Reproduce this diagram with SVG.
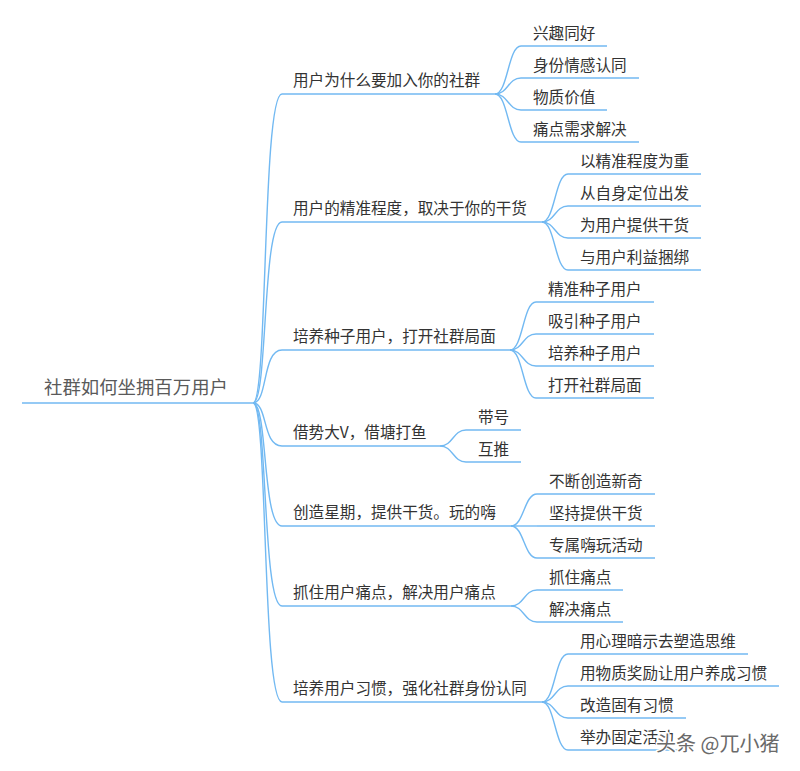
<svg xmlns="http://www.w3.org/2000/svg" width="800" height="771" viewBox="0 0 800 771">
<style>
.ln{fill:none;stroke:#72b9f2;stroke-width:1.4}
.t{font-family:"Noto Sans CJK SC","Noto Sans",sans-serif;font-size:15.6px;fill:#333}
.root{font-family:"Noto Sans CJK SC","Noto Sans",sans-serif;font-size:18.4px;fill:#5a5a5a}
.wm{font-family:"Noto Sans CJK SC","Noto Sans",sans-serif;font-size:20px;fill:#6a6a6a;stroke:#fff;stroke-width:3;paint-order:stroke;stroke-linejoin:round}
</style>
<rect width="800" height="771" fill="#fff"/>
<g id="connectors">
<!-- root to branches -->
<path class="ln" d="M253,403 C268,403 262,94 282,94"/>
<path class="ln" d="M253,403 C268,403 262,222 282,222"/>
<path class="ln" d="M253,403 C268,403 262,350 282,350"/>
<path class="ln" d="M253,403 C268,403 262,446 282,446"/>
<path class="ln" d="M253,403 C268,403 262,526 282,526"/>
<path class="ln" d="M253,403 C268,403 262,606 282,606"/>
<path class="ln" d="M253,403 C268,403 262,702 282,702"/>
<!-- B1 leaves -->
<path class="ln" d="M495,94 C508,94 508,46 521,46"/>
<path class="ln" d="M495,94 C508,94 508,78 521,78"/>
<path class="ln" d="M495,94 C508,94 508,110 521,110"/>
<path class="ln" d="M495,94 C508,94 508,142 521,142"/>
<!-- B2 leaves -->
<path class="ln" d="M542,222 C555,222 555,174 568,174"/>
<path class="ln" d="M542,222 C555,222 555,206 568,206"/>
<path class="ln" d="M542,222 C555,222 555,238 568,238"/>
<path class="ln" d="M542,222 C555,222 555,270 568,270"/>
<!-- B3 leaves -->
<path class="ln" d="M510,350 C523,350 523,302 536,302"/>
<path class="ln" d="M510,350 C523,350 523,334 536,334"/>
<path class="ln" d="M510,350 C523,350 523,366 536,366"/>
<path class="ln" d="M510,350 C523,350 523,398 536,398"/>
<!-- B4 leaves -->
<path class="ln" d="M440,446 C453,446 453,430 466,430"/>
<path class="ln" d="M440,446 C453,446 453,462 466,462"/>
<!-- B5 leaves -->
<path class="ln" d="M511,526 C524,526 524,494 537,494"/>
<path class="ln" d="M511,526 C524,526 524,526 537,526"/>
<path class="ln" d="M511,526 C524,526 524,558 537,558"/>
<!-- B6 leaves -->
<path class="ln" d="M511,606 C524,606 524,590 537,590"/>
<path class="ln" d="M511,606 C524,606 524,622 537,622"/>
<!-- B7 leaves -->
<path class="ln" d="M542,702 C555,702 555,654 568,654"/>
<path class="ln" d="M542,702 C555,702 555,686 568,686"/>
<path class="ln" d="M542,702 C555,702 555,718 568,718"/>
<path class="ln" d="M542,702 C555,702 555,750 568,750"/>
</g>
<g id="root">
<line class="ln" x1="22" y1="403" x2="253" y2="403"/>
<text class="root" x="44" y="394">社群如何坐拥百万用户</text>
</g>
<g id="b1">
<line class="ln" x1="282" y1="94" x2="495" y2="94"/>
<text class="t" x="293" y="86">用户为什么要加入你的社群</text>
</g>
<g id="b1-1"><line class="ln" x1="521" y1="46" x2="607" y2="46"/><text class="t" x="533" y="39">兴趣同好</text></g>
<g id="b1-2"><line class="ln" x1="521" y1="78" x2="639" y2="78"/><text class="t" x="533" y="71">身份情感认同</text></g>
<g id="b1-3"><line class="ln" x1="521" y1="110" x2="607" y2="110"/><text class="t" x="533" y="103">物质价值</text></g>
<g id="b1-4"><line class="ln" x1="521" y1="142" x2="639" y2="142"/><text class="t" x="533" y="135">痛点需求解决</text></g>
<g id="b2">
<line class="ln" x1="282" y1="222" x2="542" y2="222"/>
<text class="t" x="293" y="214">用户的精准程度，取决于你的干货</text>
</g>
<g id="b2-1"><line class="ln" x1="568" y1="174" x2="701" y2="174"/><text class="t" x="580" y="167">以精准程度为重</text></g>
<g id="b2-2"><line class="ln" x1="568" y1="206" x2="701" y2="206"/><text class="t" x="580" y="199">从自身定位出发</text></g>
<g id="b2-3"><line class="ln" x1="568" y1="238" x2="701" y2="238"/><text class="t" x="580" y="231">为用户提供干货</text></g>
<g id="b2-4"><line class="ln" x1="568" y1="270" x2="701" y2="270"/><text class="t" x="580" y="263">与用户利益捆绑</text></g>
<g id="b3">
<line class="ln" x1="282" y1="350" x2="510" y2="350"/>
<text class="t" x="293" y="342">培养种子用户，打开社群局面</text>
</g>
<g id="b3-1"><line class="ln" x1="536" y1="302" x2="654" y2="302"/><text class="t" x="548" y="295">精准种子用户</text></g>
<g id="b3-2"><line class="ln" x1="536" y1="334" x2="654" y2="334"/><text class="t" x="548" y="327">吸引种子用户</text></g>
<g id="b3-3"><line class="ln" x1="536" y1="366" x2="654" y2="366"/><text class="t" x="548" y="359">培养种子用户</text></g>
<g id="b3-4"><line class="ln" x1="536" y1="398" x2="654" y2="398"/><text class="t" x="548" y="391">打开社群局面</text></g>
<g id="b4">
<line class="ln" x1="282" y1="446" x2="440" y2="446"/>
<text class="t" x="293" y="438">借势大V，借塘打鱼</text>
</g>
<g id="b4-1"><line class="ln" x1="466" y1="430" x2="521" y2="430"/><text class="t" x="478" y="423">带号</text></g>
<g id="b4-2"><line class="ln" x1="466" y1="462" x2="521" y2="462"/><text class="t" x="478" y="455">互推</text></g>
<g id="b5">
<line class="ln" x1="282" y1="526" x2="511" y2="526"/>
<text class="t" x="293" y="518">创造星期，提供干货。玩的嗨</text>
</g>
<g id="b5-1"><line class="ln" x1="537" y1="494" x2="655" y2="494"/><text class="t" x="549" y="487">不断创造新奇</text></g>
<g id="b5-2"><line class="ln" x1="537" y1="526" x2="655" y2="526"/><text class="t" x="549" y="519">坚持提供干货</text></g>
<g id="b5-3"><line class="ln" x1="537" y1="558" x2="655" y2="558"/><text class="t" x="549" y="551">专属嗨玩活动</text></g>
<g id="b6">
<line class="ln" x1="282" y1="606" x2="511" y2="606"/>
<text class="t" x="293" y="598">抓住用户痛点，解决用户痛点</text>
</g>
<g id="b6-1"><line class="ln" x1="537" y1="590" x2="623" y2="590"/><text class="t" x="549" y="583">抓住痛点</text></g>
<g id="b6-2"><line class="ln" x1="537" y1="622" x2="623" y2="622"/><text class="t" x="549" y="615">解决痛点</text></g>
<g id="b7">
<line class="ln" x1="282" y1="702" x2="542" y2="702"/>
<text class="t" x="293" y="694">培养用户习惯，强化社群身份认同</text>
</g>
<g id="b7-1"><line class="ln" x1="568" y1="654" x2="748" y2="654"/><text class="t" x="580" y="647">用心理暗示去塑造思维</text></g>
<g id="b7-2"><line class="ln" x1="568" y1="686" x2="779" y2="686"/><text class="t" x="580" y="679">用物质奖励让用户养成习惯</text></g>
<g id="b7-3"><line class="ln" x1="568" y1="718" x2="686" y2="718"/><text class="t" x="580" y="711">改造固有习惯</text></g>
<g id="b7-4"><line class="ln" x1="568" y1="750" x2="686" y2="750"/><text class="t" x="580" y="743">举办固定活动</text></g>
<g id="watermark">
<text class="wm" x="656" y="751">头条 @兀小猪</text>
</g>
</svg>
